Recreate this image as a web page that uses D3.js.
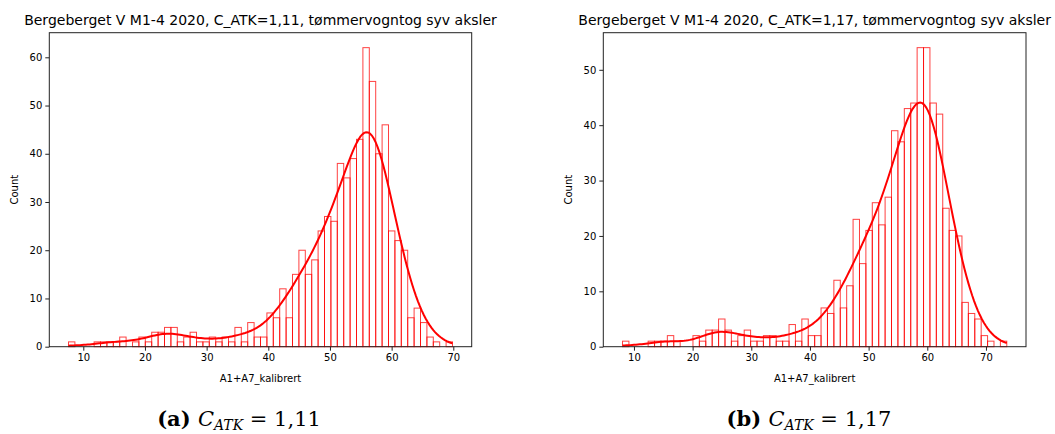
<!DOCTYPE html>
<html lang="no">
<head>
<meta charset="UTF-8">
<title>Bergeberget V M1-4 2020</title>
<script src="https://d3js.org/d3.v7.min.js"></script>
<style>
  body { margin: 0; background: #fff; }
  svg text { font-family: "DejaVu Sans", sans-serif; fill: #000; }
  .caption text, .caption tspan { font-family: "DejaVu Serif", serif; }
</style>
</head>
<body>
<svg id="chart" width="1055" height="434"></svg>
<script>
// tellinger per stolpe (60 stolper mellom min og maks)
var countsA = [1,0,0,0,1,1,1,1,2,0, 1,2,1,3,3,4,4,1,2,3,
               1,1,2,1,2,1,4,1,5,2, 2,7,6,12,6,15,20,15,18,24,
               27,26,38,35,39,43,62,55,40,46, 24,22,20,6,8,5,2,1,0,1];
var countsB = [1,0,0,0,1,1,1,2,1,0, 0,2,1,3,3,5,3,1,2,3,
               1,1,2,2,1,1,4,1,5,2, 2,7,6,12,7,11,23,15,21,26,
               22,27,39,37,43,44,54,54,44,42, 25,21,20,8,6,5,2,1,0,1];
var rangeA = [7.6, 69.87];
var rangeB = [8.05, 73.55];
var xTicks = [10, 20, 30, 40, 50, 60, 70];
var yTicksA = [0, 10, 20, 30, 40, 50, 60];
var yTicksB = [0, 10, 20, 30, 40, 50];
var titleA = "Bergeberget V M1-4 2020, C_ATK=1,11, tømmervogntog syv aksler";
var titleB = "Bergeberget V M1-4 2020, C_ATK=1,17, tømmervogntog syv aksler";
var xLabel = "A1+A7_kalibrert";
var yLabel = "Count";
var captionA = ["(a)", "1,11"];
var captionB = ["(b)", "1,17"];

var svg = d3.select("#chart");

function drawPanel(opt) {
  var counts = opt.counts, lo = opt.range[0], hi = opt.range[1];
  var nb = counts.length, w = (hi - lo) / nb;
  var span = hi - lo;

  var x = d3.scaleLinear().domain([lo - 0.05 * span, hi + 0.05 * span]).range([opt.left, opt.right]);
  var y = d3.scaleLinear().domain([0, d3.max(counts) * 1.05]).range([opt.bottom, opt.top]);

  var g = svg.append("g");

  var bars = counts.map(function(c, i) { return { i: i, c: c }; })
    .filter(function(d) { return d.c > 0; });

  // stolper (kun kant)
  g.selectAll("rect.bar")
    .data(bars)
    .enter().append("rect")
    .attr("class", "bar")
    .attr("x", function(d) { return x(lo + d.i * w); })
    .attr("width", x(lo + w) - x(lo))
    .attr("y", function(d) { return y(d.c); })
    .attr("height", function(d) { return y(0) - y(d.c); })
    .attr("fill", "none")
    .attr("stroke", "#ff0000")
    .attr("stroke-opacity", 0.75)
    .attr("stroke-width", 1);

  // KDE (Gauss, Scott) beregnet fra stolpene
  var centers = counts.map(function(c, i) { return lo + (i + 0.5) * w; });
  var n = d3.sum(counts);
  var mean = d3.sum(counts, function(c, i) { return c * centers[i]; }) / n;
  var variance = d3.sum(counts, function(c, i) { return c * Math.pow(centers[i] - mean, 2); }) / (n - 1) + w * w / 12;
  var bw = Math.sqrt(variance) * Math.pow(n, -0.2);
  var xs = d3.range(201).map(function(k) { return lo + span * k / 200; });
  var kde = xs.map(function(v) {
    var s = 0;
    for (var i = 0; i < nb; i++) {
      var z = (v - centers[i]) / bw;
      s += counts[i] * Math.exp(-0.5 * z * z);
    }
    return [v, s / (bw * Math.sqrt(2 * Math.PI)) * w];
  });
  g.append("path")
    .datum(kde)
    .attr("fill", "none")
    .attr("stroke", "#ff0000")
    .attr("stroke-width", 2)
    .attr("d", d3.line().x(function(d) { return x(d[0]); }).y(function(d) { return y(d[1]); }));

  // ramme
  g.append("rect")
    .attr("x", opt.left).attr("y", opt.top)
    .attr("width", opt.right - opt.left).attr("height", opt.bottom - opt.top)
    .attr("fill", "none").attr("stroke", "#222").attr("stroke-width", 1);

  // akser
  var ax = g.append("g").attr("transform", "translate(0," + opt.bottom + ")")
    .call(d3.axisBottom(x).tickValues(xTicks).tickSize(4).tickPadding(3).tickFormat(d3.format("d")));
  var ay = g.append("g").attr("transform", "translate(" + opt.left + ",0)")
    .call(d3.axisLeft(y).tickValues(opt.yTicks).tickSize(4).tickPadding(3).tickFormat(d3.format("d")));
  [ax, ay].forEach(function(a) {
    a.select(".domain").remove();
    a.selectAll("line").attr("stroke", "#222");
    a.selectAll("text").attr("font-size", 10).attr("font-family", "DejaVu Sans").attr("fill", "#111");
  });

  g.append("text")
    .attr("x", (opt.left + opt.right) / 2).attr("y", 382)
    .attr("text-anchor", "middle").attr("font-size", 10).attr("fill", "#111")
    .text(xLabel);
  g.append("text")
    .attr("transform", "translate(" + opt.yLabelX + "," + (opt.top + opt.bottom) / 2 + ") rotate(-90)")
    .attr("text-anchor", "middle").attr("font-size", 10).attr("fill", "#111")
    .text(yLabel);
  g.append("text")
    .attr("x", (opt.left + opt.right) / 2).attr("y", 25)
    .attr("text-anchor", "middle").attr("font-size", 14)
    .text(opt.title);

  // undertekst
  var cap = svg.append("g").attr("class", "caption").append("text")
    .attr("x", opt.capX).attr("y", 426).attr("text-anchor", "middle").attr("font-size", 21);
  cap.append("tspan").attr("font-weight", "bold").text(opt.caption[0] + " ");
  cap.append("tspan").attr("font-style", "italic").text("C");
  cap.append("tspan").attr("font-style", "italic").attr("font-size", 14).attr("dy", 4).text("ATK");
  cap.append("tspan").attr("dy", -4).text(" = " + opt.caption[1]);
}

drawPanel({ counts: countsA, range: rangeA, yTicks: yTicksA, title: titleA, caption: captionA,
            left: 49.3, right: 471.7, top: 32.7, bottom: 346.7, yLabelX: 18, capX: 239 });
drawPanel({ counts: countsB, range: rangeB, yTicks: yTicksB, title: titleB, caption: captionB,
            left: 603.3, right: 1026, top: 32.7, bottom: 346.7, yLabelX: 572, capX: 809 });
</script>
</body>
</html>
